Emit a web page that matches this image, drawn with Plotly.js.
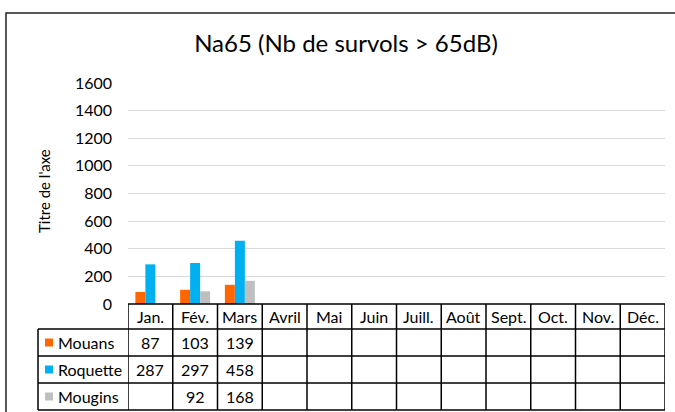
<!DOCTYPE html>
<html>
<head>
<meta charset="utf-8">
<script src="https://cdn.plot.ly/plotly-3.0.1.min.js"></script>
<style>html,body{margin:0;padding:0;background:#fff;}#chart{width:675px;height:412px;}</style>
</head>
<body>
<div id="chart"></div>
<script>
const categories = ['Jan.', 'Fév.', 'Mars', 'Avril', 'Mai', 'Juin', 'Juill.', 'Août', 'Sept.', 'Oct.', 'Nov.', 'Déc.'];
const seriesNames = ['Mouans', 'Roquette', 'Mougins'];
const mouans   = [87, 103, 139, null, null, null, null, null, null, null, null, null];
const roquette = [287, 297, 458, null, null, null, null, null, null, null, null, null];
const mougins  = [null, 92, 168, null, null, null, null, null, null, null, null, null];
const seriesColors = ['#FF6600', '#00B0F0', '#BFBFBF'];
const yTicks = [0, 200, 400, 600, 800, 1000, 1200, 1400, 1600];

const seriesValues = [mouans, roquette, mougins];
const FONT = 'Lato, sans-serif';
const TXT = 16;

// pixel -> paper helpers (layout geometry)
const L = 128, R = 665, T = 83, B = 304;
const X = px => (px - L) / (R - L);
const Y = py => (B - py) / (B - T);

const traces = seriesNames.map((n, i) => ({
  type: 'bar', name: n, x: categories, y: seriesValues[i],
  marker: {color: seriesColors[i]}, hoverinfo: 'skip'
}));

const shapes = [];
const annotations = [];
const line = {color: '#000', width: 1.5};

// outer chart border
shapes.push({type: 'rect', xref: 'paper', yref: 'paper', x0: X(6), x1: X(700), y0: Y(13), y1: Y(440),
  line: {color: '#222', width: 1.5}, layer: 'above'});

// table rows (pixel y boundaries)
const rowY = [304, 329, 356, 383, 410];
shapes.push({type: 'line', xref: 'paper', yref: 'paper', x0: 0, x1: 1, y0: Y(rowY[0]), y1: Y(rowY[0]), line});
for (let r = 1; r < rowY.length; r++) {
  shapes.push({type: 'line', xref: 'paper', yref: 'paper', x0: X(38), x1: 1, y0: Y(rowY[r]), y1: Y(rowY[r]), line});
}
shapes.push({type: 'line', xref: 'paper', yref: 'paper', x0: X(38), x1: X(38), y0: Y(rowY[1]), y1: Y(rowY[4]), line});
for (let c = 0; c <= categories.length; c++) {
  shapes.push({type: 'line', xref: 'x', yref: 'paper', x0: c - 0.5, x1: c - 0.5, y0: Y(rowY[0]), y1: Y(rowY[4]), line});
}
categories.forEach(cat => {
  annotations.push({xref: 'x', yref: 'paper', x: cat, y: Y((rowY[0] + rowY[1]) / 2), text: cat,
    showarrow: false, xanchor: 'center', yanchor: 'middle', font: {family: FONT, size: TXT, color: '#000'}});
});
seriesNames.forEach((n, i) => {
  const yc = Y((rowY[i + 1] + rowY[i + 2]) / 2);
  shapes.push({type: 'rect', xref: 'paper', yref: 'paper', x0: X(45), x1: X(53),
    y0: yc - 4 / (B - T), y1: yc + 4 / (B - T), fillcolor: seriesColors[i], line: {width: 0}});
  annotations.push({xref: 'paper', yref: 'paper', x: X(56), y: yc, text: n, showarrow: false,
    xanchor: 'left', yanchor: 'middle', font: {family: FONT, size: TXT, color: '#000'}});
  seriesValues[i].forEach((v, k) => {
    if (v !== null) {
      annotations.push({xref: 'x', yref: 'paper', x: categories[k], y: yc, text: String(v), showarrow: false,
        xanchor: 'center', yanchor: 'middle', font: {family: FONT, size: TXT, color: '#000'}});
    }
  });
});
annotations.push({xref: 'paper', yref: 'paper', x: X(44), y: Y(191), text: "Titre de l'axe", textangle: -90,
  showarrow: false, xanchor: 'center', yanchor: 'middle', font: {family: FONT, size: 15, color: '#000'}});

const layout = {
  width: 675, height: 412,
  margin: {l: L, r: 675 - R, t: T, b: 412 - B, pad: 0},
  paper_bgcolor: '#fff', plot_bgcolor: '#fff',
  title: {text: 'Na65 (Nb de survols > 65dB)', font: {family: FONT, size: 24, color: '#000'},
    xref: 'container', yref: 'container', x: 346 / 675, y: 1 - 44 / 412, xanchor: 'center', yanchor: 'middle'},
  showlegend: false,
  barmode: 'group', bargap: 0.33, bargroupgap: 0,
  xaxis: {type: 'category', categoryarray: categories, showticklabels: false, ticks: '', showgrid: false,
    zeroline: false, showline: false, range: [-0.5, categories.length - 0.5], fixedrange: true},
  yaxis: {range: [0, 1600], tickvals: yTicks, ticktext: yTicks.map(String), showgrid: true, gridcolor: '#D9D9D9',
    gridwidth: 1, zeroline: false, showline: false, ticks: '', ticklabelstandoff: 15,
    tickfont: {family: FONT, size: TXT, color: '#000'}, fixedrange: true},
  shapes, annotations,
  font: {family: FONT}
};

Plotly.newPlot('chart', traces, layout, {staticPlot: true, displayModeBar: false});
</script>
</body>
</html>
